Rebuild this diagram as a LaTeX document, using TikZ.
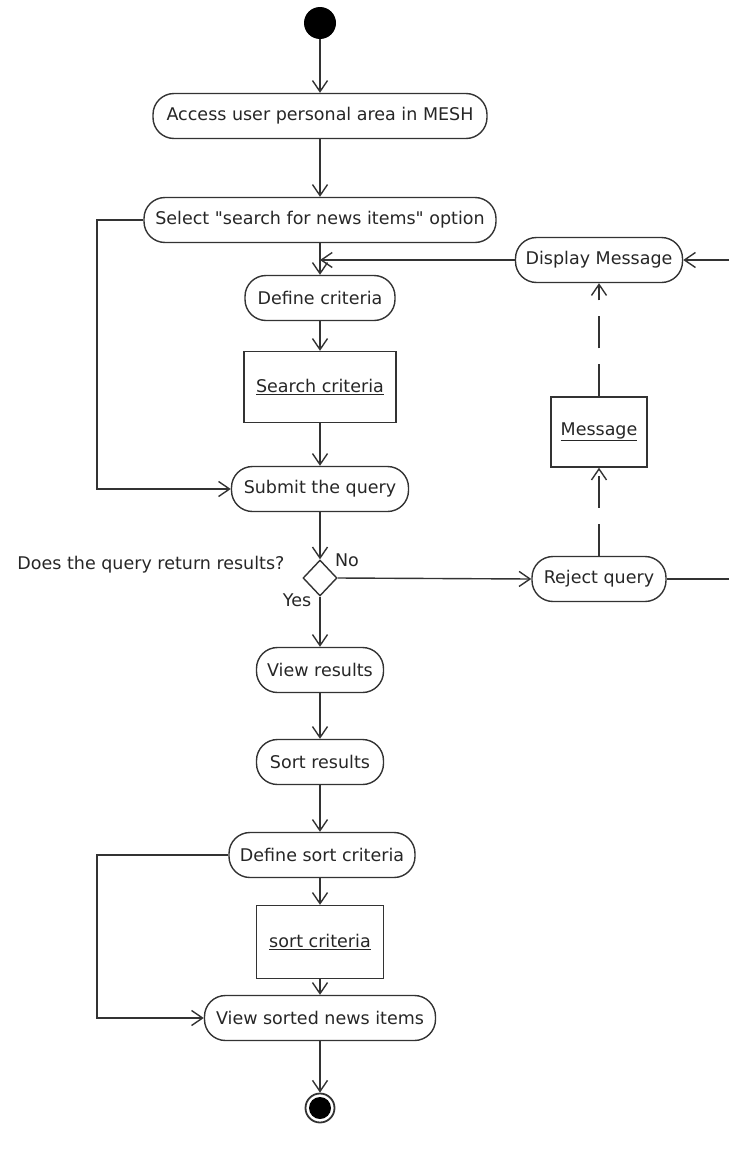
\documentclass[tikz,border=0pt]{standalone}
\usepackage{fontspec}
\setmainfont{DejaVu Sans}
\usetikzlibrary{arrows.meta,shapes.geometric,calc}
% a plain straight double quote, set as a glyph so no text mapping curls it
\newcommand\straightquote{{\XeTeXglyph\XeTeXcharglyph"22\relax}}
\begin{document}
\begin{tikzpicture}[x=1pt,y=-1pt,
  every node/.style={font=\fontsize{17.5}{20}\selectfont, text=black!85},
  act/.style={draw=black!80, line width=1.4pt, rounded corners=21pt,
    minimum height=45pt, inner sep=0pt},
  obj/.style={draw=black!80, line width=1.4pt, inner sep=0pt},
  flow/.style={draw=black!80, line width=1.4pt,
    -{Straight Barb[length=11pt,width=15pt,line width=1.4pt]}},
  dflow/.style={flow, dash pattern=on 32pt off 16pt},
  link/.style={draw=black!80, line width=1.4pt}]
\useasboundingbox (0,0) rectangle (729,1154);

% activities, objects and control nodes
\node[circle, fill=black, minimum size=32pt, inner sep=0pt] (start) at (320,23) {};
\node[act, minimum width=334pt] (access) at (320,116) {Access user personal area in MESH};
\node[act, minimum width=352pt] (select) at (320,220) {Select \straightquote search for news items\straightquote{} option};
\node[act, minimum width=167pt] (display) at (599,260) {Display Message};
\node[act, minimum width=150pt] (define) at (320,298) {Define criteria};
\node[obj, minimum width=152pt, minimum height=71pt] (search) at (320,387) {\underline{Search criteria}};
\node[obj, minimum width=96pt, minimum height=70pt] (message) at (599,432) {\underline{Message}};
\node[act, minimum width=177pt] (submit) at (320,489) {Submit the query};
\node[diamond, draw=black!80, line width=1.4pt, minimum width=34pt,
  minimum height=36pt, inner sep=0pt] (dec) at (320,578) {};
\node[anchor=east] (question) at (288,565) {Does the query return results?};
\node (no) at (347,560) {No};
\node (yes) at (297,600) {Yes};
\node[act, minimum width=134pt] (reject) at (599,579) {Reject query};
\node[act, minimum width=127pt] (viewres) at (320,670) {View results};
\node[act, minimum width=127pt] (sortres) at (320,762) {Sort results};
\node[act, minimum width=186pt] (definesort) at (322,855) {Define sort criteria};
\node[obj, minimum width=127pt, minimum height=73pt] (sortcrit) at (320,942) {\underline{sort criteria}};
\node[act, minimum width=231pt] (viewsorted) at (320,1018) {View sorted news items};
\node[circle, draw=black!80, line width=1.8pt, minimum size=29pt, inner sep=0pt] (end) at (320,1108) {};
\node[circle, fill=black, minimum size=22pt, inner sep=0pt] (endcore) at (end.center) {};

% helper points for the side loops and the open ends on the right
\coordinate (loopx) at (97,0);
\coordinate (rightout) at (729,579);
\coordinate (rightin) at (729,260);
\coordinate (join) at (define.north |- display.west);

% control flows
\draw[flow] (start) -- (access);
\draw[flow] (access) -- (select);
\draw[flow] (select) -- (define);
\draw[flow] (display.west) -- (join);
\draw[flow] (define) -- (search);
\draw[flow] (search) -- (submit);
\draw[flow] (select.west) -- (select.west -| loopx) -- (submit.west -| loopx) -- (submit.west);
\draw[flow] (submit) -- (dec.north);
\draw[flow] (dec.east) -- (reject.west);
\draw[flow] (dec.south) -- (viewres);
\draw[dflow] (reject.north) -- (message.south);
\draw[dflow] (message.north) -- (display.south);
\draw[link] (reject.east) -- (rightout);
\draw[flow] (rightin) -- (display.east);
\draw[flow] (viewres) -- (sortres);
\draw[flow] (sortres) -- (definesort.north -| sortres);
\draw[flow] (definesort.south -| sortcrit) -- (sortcrit);
\draw[flow] (sortcrit) -- (viewsorted);
\draw[flow] (definesort.west) -- (definesort.west -| loopx) -- (viewsorted.west -| loopx) -- (viewsorted.west);
\draw[flow] (viewsorted) -- (end);
\end{tikzpicture}
\end{document}
